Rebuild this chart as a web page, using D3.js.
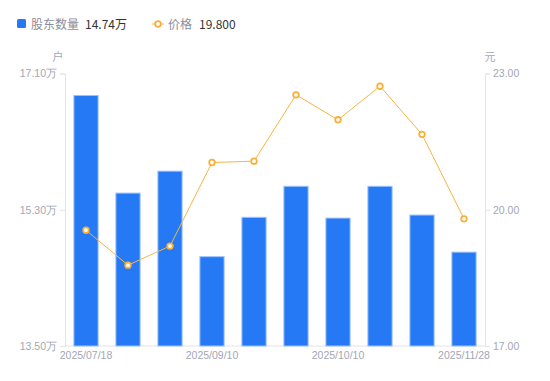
<!DOCTYPE html>
<html><head><meta charset="utf-8">
<script src="https://cdn.jsdelivr.net/npm/d3@7"></script>
<style>body{margin:0;background:#fff;font-family:"Noto Sans CJK SC","Noto Sans",sans-serif;}</style>
</head><body><svg id="c" width="550" height="381"></svg>
<script>
const categories = ["2025/07/18","2025/07/31","2025/08/20","2025/09/10","2025/09/19","2025/09/30","2025/10/10","2025/10/31","2025/11/10","2025/11/28"];
const holders = [16.81,15.52,15.81,14.68,15.20,15.61,15.19,15.61,15.23,14.74];
const prices = [19.55,18.78,19.20,21.04,21.07,22.53,21.98,22.72,21.66,19.80];
const leftTicks = [13.5,15.3,17.1];
const rightTicks = [17,20,23];
const shownLabels = ["2025/07/18","2025/09/10","2025/10/10","2025/11/28"];

const svg = d3.select("#c");
const m = {l:65, r:485, t:73.5, b:346};
const x = d3.scaleBand().domain(categories).range([m.l, m.r]).paddingInner(0.4).paddingOuter(0.2);
const yL = d3.scaleLinear().domain([13.5,17.1]).range([m.b, m.t]);
const yR = d3.scaleLinear().domain([17,23]).range([m.b, m.t]);
const axisCol = "#e3e4e8", txtCol = "#a3a6b4";

// axes
const gl = svg.append("g").attr("transform",`translate(${m.l},0)`)
  .call(d3.axisLeft(yL).tickValues(leftTicks).tickSize(5).tickPadding(3).tickFormat(d=>d3.format(".2f")(d)+"万"));
const gr = svg.append("g").attr("transform",`translate(${m.r},0)`)
  .call(d3.axisRight(yR).tickValues(rightTicks).tickSize(5).tickPadding(3).tickFormat(d3.format(".2f")));
const gb = svg.append("g").attr("transform",`translate(0,${m.b})`)
  .call(d3.axisBottom(x).tickValues(shownLabels).tickSize(0).tickPadding(6));
[gl,gr,gb].forEach(g=>{
  g.selectAll("path.domain").attr("stroke",axisCol);
  g.selectAll(".tick line").attr("stroke",axisCol);
  g.selectAll("text").attr("fill",txtCol).attr("font-size",10.5).attr("font-family","Liberation Sans, Arial, sans-serif");
});
gb.select("path.domain").attr("d",`M${m.l},0H${m.r}`);

svg.append("text").attr("x",58).attr("y",61).attr("text-anchor","middle").attr("fill",txtCol).attr("font-size",11).text("户");
svg.append("text").attr("x",490).attr("y",61).attr("text-anchor","middle").attr("fill",txtCol).attr("font-size",11).text("元");

// bars
svg.append("g").selectAll("rect").data(holders).join("rect")
  .attr("x",(d,i)=>x(categories[i])+0.5).attr("width",x.bandwidth()-1)
  .attr("y",d=>yL(d)).attr("height",d=>m.b-yL(d))
  .attr("fill","#2679f5").attr("stroke","#9cc2fb").attr("stroke-width",1);

// line
const cx = i => x(categories[i]) + x.bandwidth()/2;
const line = d3.line().x((d,i)=>cx(i)).y(d=>yR(d));
svg.append("path").datum(prices).attr("d",line).attr("fill","none").attr("stroke","#f8b53f").attr("stroke-width",1);
svg.append("g").selectAll("circle").data(prices).join("circle")
  .attr("cx",(d,i)=>cx(i)).attr("cy",d=>yR(d)).attr("r",2.8)
  .attr("fill","#fff").attr("stroke","#f8b03a").attr("stroke-width",1.8);

// legend
const lg = svg.append("g");
lg.append("rect").attr("x",17).attr("y",19).attr("width",9).attr("height",9).attr("rx",1.5).attr("fill","#2679f5");
lg.append("text").attr("x",31).attr("y",28.5).attr("fill","#8a8d99").attr("font-size",12).text("股东数量");
lg.append("text").attr("x",85).attr("y",28.5).attr("fill","#333").attr("font-size",12).text("14.74万");
lg.append("line").attr("x1",152).attr("x2",164).attr("y1",24).attr("y2",24).attr("stroke","#f8b53f").attr("stroke-width",1);
lg.append("circle").attr("cx",158).attr("cy",24).attr("r",2.8).attr("fill","#fff").attr("stroke","#f8b03a").attr("stroke-width",1.8);
lg.append("text").attr("x",168).attr("y",28.5).attr("fill","#8a8d99").attr("font-size",12).text("价格");
lg.append("text").attr("x",199).attr("y",28.5).attr("fill","#333").attr("font-size",12).text("19.800");
</script></body></html>
